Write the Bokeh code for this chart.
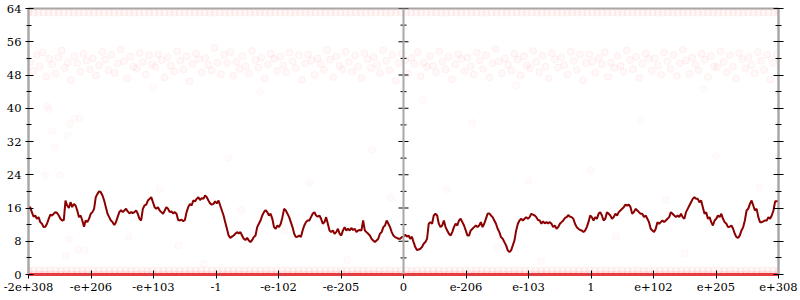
import numpy as np
from bokeh.plotting import figure
from bokeh.models import FixedTicker, LinearAxis, Span
from bokeh.embed import file_html
from bokeh.resources import INLINE

# ---- data ----
x_tick_pos = [-6, -5, -4, -3, -2, -1, 0, 1, 2, 3, 4, 5, 6]
x_tick_labels = ["-2e+308", "-e+206", "-e+103", "-1", "-e-102", "-e-205", "0",
                 "e-206", "e-103", "1", "e+102", "e+205", "e+308"]
y_major = [0, 8, 16, 24, 32, 40, 48, 56, 64]
y_minor = [4, 12, 20, 28, 36, 44, 52, 60]

line_y = [
    16.0,16.2,15.0,13.9,14.2,13.4,13.8,12.6,12.2,11.4,
    11.5,12.2,13.4,14.4,14.2,14.6,15.0,14.8,14.2,13.4,
    13.0,13.1,17.8,16.6,16.0,17.4,16.2,17.0,16.6,15.4,
    13.8,14.2,13.0,11.5,13.0,12.6,13.4,14.6,15.0,15.8,
    18.6,19.4,20.0,19.8,19.0,17.8,16.2,14.6,13.8,13.0,
    12.6,11.9,12.6,13.8,15.0,15.5,15.0,15.4,15.8,15.2,
    14.7,15.0,14.8,15.0,15.4,14.6,13.4,13.0,15.8,16.6,
    16.8,17.8,18.2,18.6,17.4,16.2,15.8,16.2,15.4,15.0,
    14.6,15.4,16.2,15.8,15.0,15.2,14.7,15.0,14.6,13.1,
    13.0,13.2,12.8,13.1,15.0,16.2,17.0,16.6,17.8,17.6,
    18.2,18.6,17.9,18.4,18.2,19.0,18.6,17.8,17.1,
    16.8,17.0,17.6,17.1,17.8,16.6,15.4,14.2,12.6,11.0,
    9.4,8.8,9.1,9.4,9.8,10.2,9.9,10.2,9.4,8.6,
    8.3,8.8,8.2,7.8,8.3,9.0,9.4,11.4,12.2,13.0,
    14.2,15.0,15.5,15.0,14.2,14.6,13.4,11.4,11.0,11.8,
    11.4,12.2,13.8,15.8,15.4,14.6,13.8,12.6,11.4,9.8,
    9.0,9.1,9.4,9.0,10.6,11.8,12.6,13.0,13.0,13.8,
    14.6,15.0,14.2,13.9,14.2,13.4,12.2,12.6,13.8,12.2,
    10.6,10.2,10.6,9.8,10.2,11.0,9.8,9.4,10.6,11.4,
    10.6,11.0,10.6,11.2,10.7,11.0,10.2,10.6,10.7,10.6,
    13.0,10.6,10.2,9.8,9.4,8.6,8.2,7.8,8.2,8.6,
    9.8,10.2,11.4,11.8,13.0,12.2,11.4,10.2,9.4,9.0,
    8.8,8.6,8.6,9.0,
    9.1,9.6,9.1,9.4,8.6,9.1,7.8,6.6,5.9,6.0,
    6.2,6.6,7.4,7.8,8.6,12.2,12.6,12.2,14.2,14.6,
    14.2,12.2,11.4,11.8,13.0,11.4,10.6,9.8,9.4,10.2,
    11.4,12.2,11.8,13.0,13.4,12.6,11.8,10.6,9.4,9.4,
    10.6,11.0,11.4,11.8,11.4,11.8,12.6,11.4,12.2,13.4,
    14.6,14.7,14.2,13.8,13.0,12.2,11.0,10.2,9.0,8.6,
    7.8,7.0,5.8,5.4,5.8,7.0,8.2,10.6,12.2,13.0,
    13.4,13.0,13.4,13.8,13.4,13.8,14.6,14.4,14.2,13.8,
    13.1,13.0,12.2,12.8,12.3,12.6,12.3,12.6,12.2,11.4,
    11.8,11.0,11.4,12.2,12.6,13.0,13.6,13.8,14.3,13.9,
    13.8,13.4,12.2,11.4,11.0,10.7,10.6,10.2,10.6,11.4,
    12.6,14.2,13.8,13.0,
    13.8,13.4,14.6,15.0,14.2,13.0,13.4,15.0,14.6,14.2,
    13.4,13.8,14.6,14.2,15.0,15.4,15.8,16.2,16.8,16.6,
    16.8,16.2,14.6,15.0,15.8,15.4,15.0,14.6,14.6,13.8,
    14.2,13.4,12.6,11.0,10.6,10.2,11.0,12.6,12.2,12.6,
    13.0,12.6,13.0,13.4,13.8,15.0,14.6,14.2,13.8,14.2,
    13.8,14.6,13.8,13.4,15.0,15.8,16.6,17.4,18.2,18.6,
    18.2,18.2,17.4,17.8,16.2,14.6,15.0,13.4,13.8,12.6,
    11.8,13.0,13.4,14.2,13.8,14.6,13.4,12.6,12.2,11.4,
    11.5,11.8,11.0,9.8,9.0,8.8,9.4,10.6,11.4,13.0,
    15.4,15.8,17.0,17.8,16.6,15.4,15.8,13.8,12.6,12.6,
    12.8,13.0,13.0,13.8,13.4,14.2,15.4,17.6,17.6,17.6,
]
line_x = np.linspace(-6, 6, len(line_y))

cloud_y = [
    51.2,49.0,52.8,50.1,53.4,47.6,51.9,50.5,48.3,52.2,53.9,49.7,51.0,46.8,52.6,50.9,48.8,53.1,51.5,49.4,
    52.0,47.9,50.3,53.6,51.7,49.2,52.9,48.5,50.8,54.2,51.3,47.2,52.4,50.0,49.6,53.3,51.1,48.1,52.7,50.6,
    49.9,53.0,51.6,47.4,52.3,50.2,48.9,53.7,51.4,49.3,52.5,46.5,50.7,53.2,51.8,48.6,52.1,50.4,49.1,54.5,
    51.0,48.2,52.9,50.9,53.5,47.8,51.2,49.5,52.6,50.1,48.4,53.8,51.6,49.8,52.2,47.1,50.5,53.1,51.9,49.0,
    52.4,50.3,48.7,53.4,51.3,49.6,52.8,46.9,50.8,53.0,51.5,48.0,52.0,50.6,49.2,54.0,51.7,47.5,52.5,50.2,
    49.4,53.6,51.1,48.8,52.7,50.0,47.3,53.3,51.8,49.7,52.3,50.4,48.5,53.9,51.4,49.1,52.9,46.6,50.9,53.2,
    51.6,48.3,52.1,50.7,53.5,47.7,51.0,49.9,52.6,50.2,48.6,53.7,51.2,49.3,52.4,47.0,50.6,53.0,51.9,48.9,
    52.2,50.1,48.1,53.4,51.5,49.5,52.8,47.4,50.8,54.3,51.3,48.4,52.0,50.5,49.0,53.1,51.7,47.9,52.5,50.3,
    49.6,53.8,51.1,48.7,52.7,50.0,47.2,53.3,51.8,49.8,52.3,50.4,48.2,53.6,51.4,49.2,52.9,46.7,50.9,53.0,
    51.2,48.5,52.1,50.6,53.5,47.6,51.0,49.7,52.6,50.2,48.8,53.9,51.6,49.4,52.4,47.3,50.7,53.2,51.9,49.0,
    52.0,50.3,48.0,53.4,51.3,49.5,52.8,47.8,50.8,54.1,51.5,48.3,52.2,50.5,49.1,53.1,51.7,47.5,52.5,50.1,
    49.9,53.7,51.1,48.6,52.7,50.0,47.1,53.3,51.8,49.6,52.3,50.4,48.4,53.5,51.4,49.3,52.9,46.9,50.9,53.0,
]
cloud_x = np.linspace(-5.97, 5.97, len(cloud_y))

sparse_x = [-5.7,-5.67,-5.26,-5.18,-5.34,-5.62,-5.38,-5.58,-5.73,-5.49,-5.35,-5.2,-5.4,-5.1,
            -4.6,-4.4,-3.9,-3.6,-3.2,-2.8,-2.6,-2.3,-1.9,-1.5,-0.9,-0.5,-0.2,0.3,0.7,1.1,
            1.5,2.0,2.2,2.6,3.0,3.4,3.8,4.2,4.5,5.0,5.4,5.7,-4.0,1.8,4.8]
sparse_y = [40.5,39.8,37.5,37.6,36.2,34.5,33.4,30.6,23.8,23.8,8.5,6.0,4.5,5.8,
            12.5,9.0,20.5,7.0,2.5,28.0,15.5,44.0,10.5,22.0,3.5,30.0,18.5,42.0,20.5,36.5,
            6.5,22.5,3.2,13.0,25.0,9.0,37.0,18.0,5.0,28.5,12.0,21.0,45.0,45.5,44.5]

band_levels = [0, 1, 63]
band_counts = [260, 140, 150]

# ---- figure ----
FONT = "DejaVu Serif"
GRAY = "#a8a8a8"
p = figure(width=800, height=300, x_range=(-6, 6), y_range=(0, 64),
           output_backend="svg", toolbar_location=None,
           min_border_left=28, min_border_right=22, min_border_top=8, min_border_bottom=26)
p.grid.visible = False
p.background_fill_color = "white"
p.border_fill_color = "white"
p.outline_line_color = GRAY
p.outline_line_width = 2

pt_kw = dict(size=7, fill_color="#ff2020", line_color="#ff2020", fill_alpha=0.03, line_alpha=0.05)
for lvl, cnt in zip(band_levels, band_counts):
    bx = np.linspace(-6, 6, cnt)
    p.scatter(bx, np.full(cnt, float(lvl)), marker="circle", **pt_kw)
p.scatter(cloud_x, cloud_y, marker="circle", **pt_kw)
p.scatter(sparse_x, sparse_y, marker="circle", size=7, fill_color="#ff2020",
          line_color="#ff2020", fill_alpha=0.02, line_alpha=0.03)

p.line(line_x, line_y, line_color="#8b0000", line_width=2)

# middle axis
p.add_layout(Span(location=0, dimension="height", line_color=GRAY, line_width=2))
p.scatter([0] * len(y_major), y_major, marker="dash", size=10, line_color="black", line_width=1.2)
p.scatter([0] * len(y_minor), y_minor, marker="dash", size=6, line_color="black", line_width=1)

yt = FixedTicker(ticks=y_major, minor_ticks=y_minor)
xt = FixedTicker(ticks=x_tick_pos, minor_ticks=[])

ax = p.yaxis[0]
ax.ticker = yt
ax.axis_line_color = GRAY
ax.axis_line_width = 2
ax.major_tick_in = 5
ax.major_tick_out = 3
ax.minor_tick_in = 3
ax.minor_tick_out = 2
ax.major_tick_line_color = "black"
ax.minor_tick_line_color = "black"
ax.major_label_text_font = FONT
ax.major_label_text_font_size = "11.5px"
ax.major_label_text_color = "black"
ax.major_label_standoff = 4

ra = LinearAxis(ticker=yt)
ra.axis_line_color = GRAY
ra.axis_line_width = 2
ra.major_tick_in = 5
ra.major_tick_out = 5
ra.minor_tick_in = 3
ra.minor_tick_out = 3
ra.major_tick_line_color = "black"
ra.minor_tick_line_color = "black"
ra.major_label_text_font_size = "1px"
ra.major_label_text_alpha = 0
ra.major_label_standoff = 0
p.add_layout(ra, "right")

bx_ax = p.xaxis[0]
bx_ax.ticker = xt
bx_ax.major_label_overrides = {k: v for k, v in zip(x_tick_pos, x_tick_labels)}
bx_ax.axis_line_color = "#e63c3f"
bx_ax.axis_line_width = 3
bx_ax.major_tick_in = 4
bx_ax.major_tick_out = 4
bx_ax.major_tick_line_color = "black"
bx_ax.major_label_text_font = FONT
bx_ax.major_label_text_font_size = "11.5px"
bx_ax.major_label_text_color = "black"
bx_ax.major_label_standoff = 4

open("out.html", "w").write(file_html(p, INLINE))
